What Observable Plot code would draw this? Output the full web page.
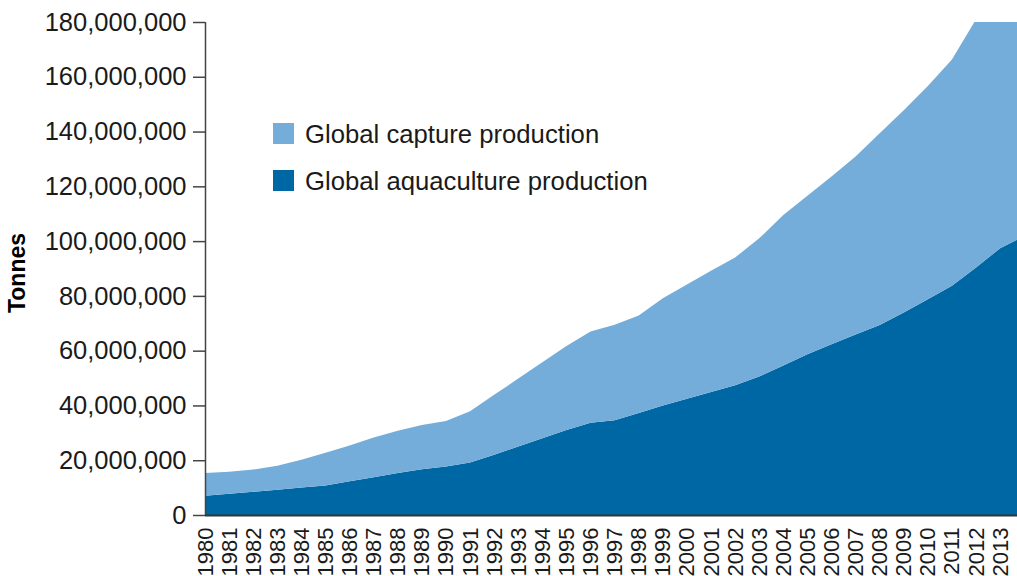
<!DOCTYPE html>
<html>
<head>
<meta charset="utf-8">
<script src="https://cdn.jsdelivr.net/npm/d3@7"></script>
<script src="https://cdn.jsdelivr.net/npm/@observablehq/plot@0.6"></script>
<style>
  html, body { margin: 0; padding: 0; background: #fff; }
  #wrap { position: relative; width: 1017px; height: 576px; overflow: hidden; font-family: "Liberation Sans", Arial, sans-serif; color: #1a1a1a; }
  .lg-sq { position: absolute; width: 21px; height: 21px; }
  .lg-tx { position: absolute; font-size: 25.7px; line-height: 25px; white-space: nowrap; }
  #ylab { position: absolute; left: 17px; top: 273px; transform: translate(-50%, -50%) rotate(-90deg); font-weight: bold; font-size: 23px; line-height: 23px; white-space: nowrap; color: #000; }
</style>
</head>
<body>
<div id="wrap"></div>
<script>
const years = [1980,1981,1982,1983,1984,1985,1986,1987,1988,1989,1990,1991,1992,1993,1994,1995,1996,1997,1998,1999,2000,2001,2002,2003,2004,2005,2006,2007,2008,2009,2010,2011,2012,2013,2014];
// Global aquaculture production (million tonnes)
const aquaculture = [7.0,7.8,8.5,9.2,10.0,10.8,12.3,13.8,15.3,16.7,17.7,19.2,22.0,25.0,28.0,31.0,33.7,34.6,37.2,40.0,42.4,44.9,47.4,50.6,54.6,58.7,62.3,65.9,69.4,73.9,78.8,83.7,90.4,97.4,101.8];
// Global capture production (million tonnes)
const capture = [8.3,8.0,8.1,8.8,10.2,11.9,13.1,14.5,15.5,16.2,16.6,18.7,21.9,24.8,27.8,30.7,33.3,34.9,35.6,39.1,41.8,44.3,46.6,50.4,54.9,57.9,61.3,65.0,70.0,73.9,77.8,82.6,90.6,90.6,90.2];
const seriesNames = ["Global capture production", "Global aquaculture production"];
const seriesColors = ["#74add9", "#0067a5"];
const xTicks = years.filter(y => y <= 2013);
const yTicks = [0,20e6,40e6,60e6,80e6,100e6,120e6,140e6,160e6,180e6];

const rows = [];
years.forEach((yr, i) => {
  rows.push({year: yr, series: seriesNames[1], value: aquaculture[i] * 1e6});
  rows.push({year: yr, series: seriesNames[0], value: capture[i] * 1e6});
});

const chart = Plot.plot({
  width: 1017,
  height: 576,
  marginLeft: 205,
  marginRight: 0,
  marginTop: 22,
  marginBottom: 61,
  style: {fontFamily: "Liberation Sans, Arial, sans-serif", background: "#fff", color: "#1a1a1a"},
  x: {type: "linear", domain: [1980, 2013.7], label: null},
  y: {domain: [0, 180e6], label: null},
  color: {domain: seriesNames, range: seriesColors},
  marks: [
    Plot.areaY(rows, {x: "year", y: "value", fill: "series", order: [seriesNames[1], seriesNames[0]], clip: true}),
    Plot.axisX({ticks: xTicks, tickFormat: d => String(d), tickRotate: -90, tickSize: 0, tickPadding: 12, fontSize: 22, label: null, fill: "#1a1a1a"}),
    Plot.axisY({ticks: yTicks, tickFormat: d3.format(","), tickSize: 12, tickPadding: 7, fontSize: 25.5, label: null, stroke: "#444", strokeWidth: 1.5, fill: "#1a1a1a"}),
    Plot.ruleX([1980], {y1: 0, y2: 180e6, stroke: "#444", strokeWidth: 1.5}),
    Plot.ruleY([0], {stroke: "#333", strokeWidth: 1.8})
  ]
});

const wrap = document.getElementById("wrap");
wrap.appendChild(chart);

const legendTops = [123, 170];
seriesNames.forEach((name, i) => {
  const sq = document.createElement("div");
  sq.className = "lg-sq";
  sq.style.left = "273px";
  sq.style.top = legendTops[i] + "px";
  sq.style.background = seriesColors[i];
  wrap.appendChild(sq);
  const tx = document.createElement("div");
  tx.className = "lg-tx";
  tx.style.left = "305px";
  tx.style.top = (legendTops[i] - 1) + "px";
  tx.textContent = name;
  wrap.appendChild(tx);
});

const yl = document.createElement("div");
yl.id = "ylab";
yl.textContent = "Tonnes";
wrap.appendChild(yl);
</script>
</body>
</html>
